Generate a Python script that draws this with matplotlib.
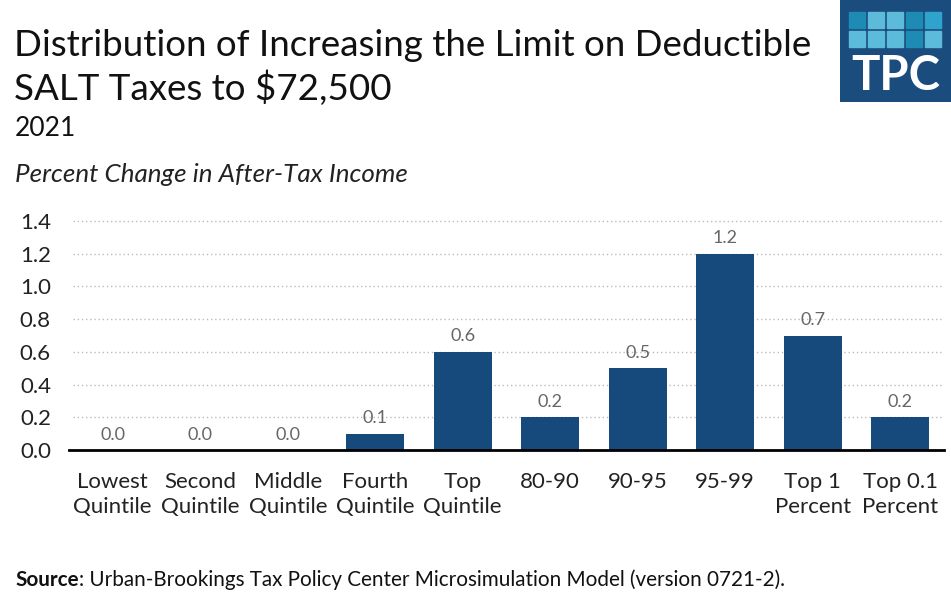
import matplotlib
matplotlib.use("Agg")
import matplotlib.pyplot as plt
from matplotlib.patches import Rectangle

categories = ["Lowest\nQuintile", "Second\nQuintile", "Middle\nQuintile", "Fourth\nQuintile",
              "Top\nQuintile", "80-90", "90-95", "95-99", "Top 1\nPercent", "Top 0.1\nPercent"]
values = [0.0, 0.0, 0.0, 0.1, 0.6, 0.2, 0.5, 1.2, 0.7, 0.2]
yticks = [0.0, 0.2, 0.4, 0.6, 0.8, 1.0, 1.2, 1.4]

FONT = "Lato"
W, H = 951, 601
fig = plt.figure(figsize=(W / 100, H / 100), dpi=100)
fig.patch.set_facecolor("white")

def fx(px):
    return px / W

def fy(py):
    return 1 - py / H

ax_left, ax_right = 69, 944
ax_bottom = 450
ymax = 1.45
ppu = (450 - 221) / 1.4
ax_top = ax_bottom - ymax * ppu
ax = fig.add_axes([fx(ax_left), fy(ax_bottom), (ax_right - ax_left) / W, (ax_bottom - ax_top) / H])

bar_color = "#174A7C"
x = list(range(len(values)))
ax.bar(x, values, width=0.66, color=bar_color, zorder=3)
for xi, v in zip(x, values):
    ax.text(xi, v + 0.045, f"{v:.1f}", ha="center", va="bottom", fontsize=13,
            color="#666666", family=FONT)

ax.set_xlim(-0.5, len(values) - 0.5)
ax.set_ylim(0, ymax)
ax.set_yticks(yticks)
ax.set_yticklabels([f"{t:.1f}" for t in yticks], fontsize=16, family=FONT, color="#222222")
ax.set_xticks(x)
ax.set_xticklabels(categories, fontsize=16, family=FONT, color="#222222", linespacing=1.32)
ax.tick_params(axis="both", length=0)
ax.tick_params(axis="y", pad=13)
ax.tick_params(axis="x", pad=16)
for s in ["top", "right", "left"]:
    ax.spines[s].set_visible(False)
ax.spines["bottom"].set_linewidth(2)
ax.spines["bottom"].set_color("black")
ax.spines["bottom"].set_zorder(4)
for t in yticks[1:]:
    ax.axhline(t, xmin=0.004, color="#BBBBBB", linestyle=(0, (1, 2)), linewidth=1, zorder=1)

# Titles
fig.text(fx(14), fy(45), "Distribution of Increasing the Limit on Deductible", fontsize=26.5,
         family=FONT, va="center", ha="left", color="#111111")
fig.text(fx(14), fy(88), "SALT Taxes to $72,500", fontsize=26.5,
         family=FONT, va="center", ha="left", color="#111111")
fig.text(fx(15), fy(129), "2021", fontsize=19, family=FONT, va="center", ha="left", color="#111111")
fig.text(fx(15), fy(174), "Percent Change in After-Tax Income", fontsize=18.7, family=FONT,
         style="italic", va="center", ha="left", color="#222222")

# Source
t_src = fig.text(fx(15), fy(580), "Source", fontsize=14.9, family=FONT, weight="bold",
                 va="center", ha="left", color="#111111")
fig.canvas.draw()
bb = t_src.get_window_extent(renderer=fig.canvas.get_renderer())
fig.text(bb.x1 / W, fy(580), ": Urban-Brookings Tax Policy Center Microsimulation Model (version 0721-2).",
         fontsize=14.9, family=FONT, va="center", ha="left", color="#111111")

# TPC logo
logo = fig.add_axes([fx(840), fy(102), (W - 840) / W, 102 / H])
logo.set_xlim(0, 111)
logo.set_ylim(102, 0)
logo.axis("off")
logo.add_patch(Rectangle((0, 0), 111, 102, color="#1B4C7E"))
sq_colors = [["#1E8BB5", "#5BBBD8", "#5BBBD8", "#1E8BB5", "#2EA3CB"],
             ["#5BBBD8", "#5BBBD8", "#5BBBD8", "#1E8BB5", "#5BBBD8"]]
for r in range(2):
    for c in range(5):
        logo.add_patch(Rectangle((9 + c * 19, 12 + r * 19), 16, 16, color=sq_colors[r][c]))
logo.text(55.5, 76, "TPC", fontsize=34, family=FONT, weight="bold", color="white",
          ha="center", va="center")

fig.savefig("out.png", dpi=100, facecolor="white")
